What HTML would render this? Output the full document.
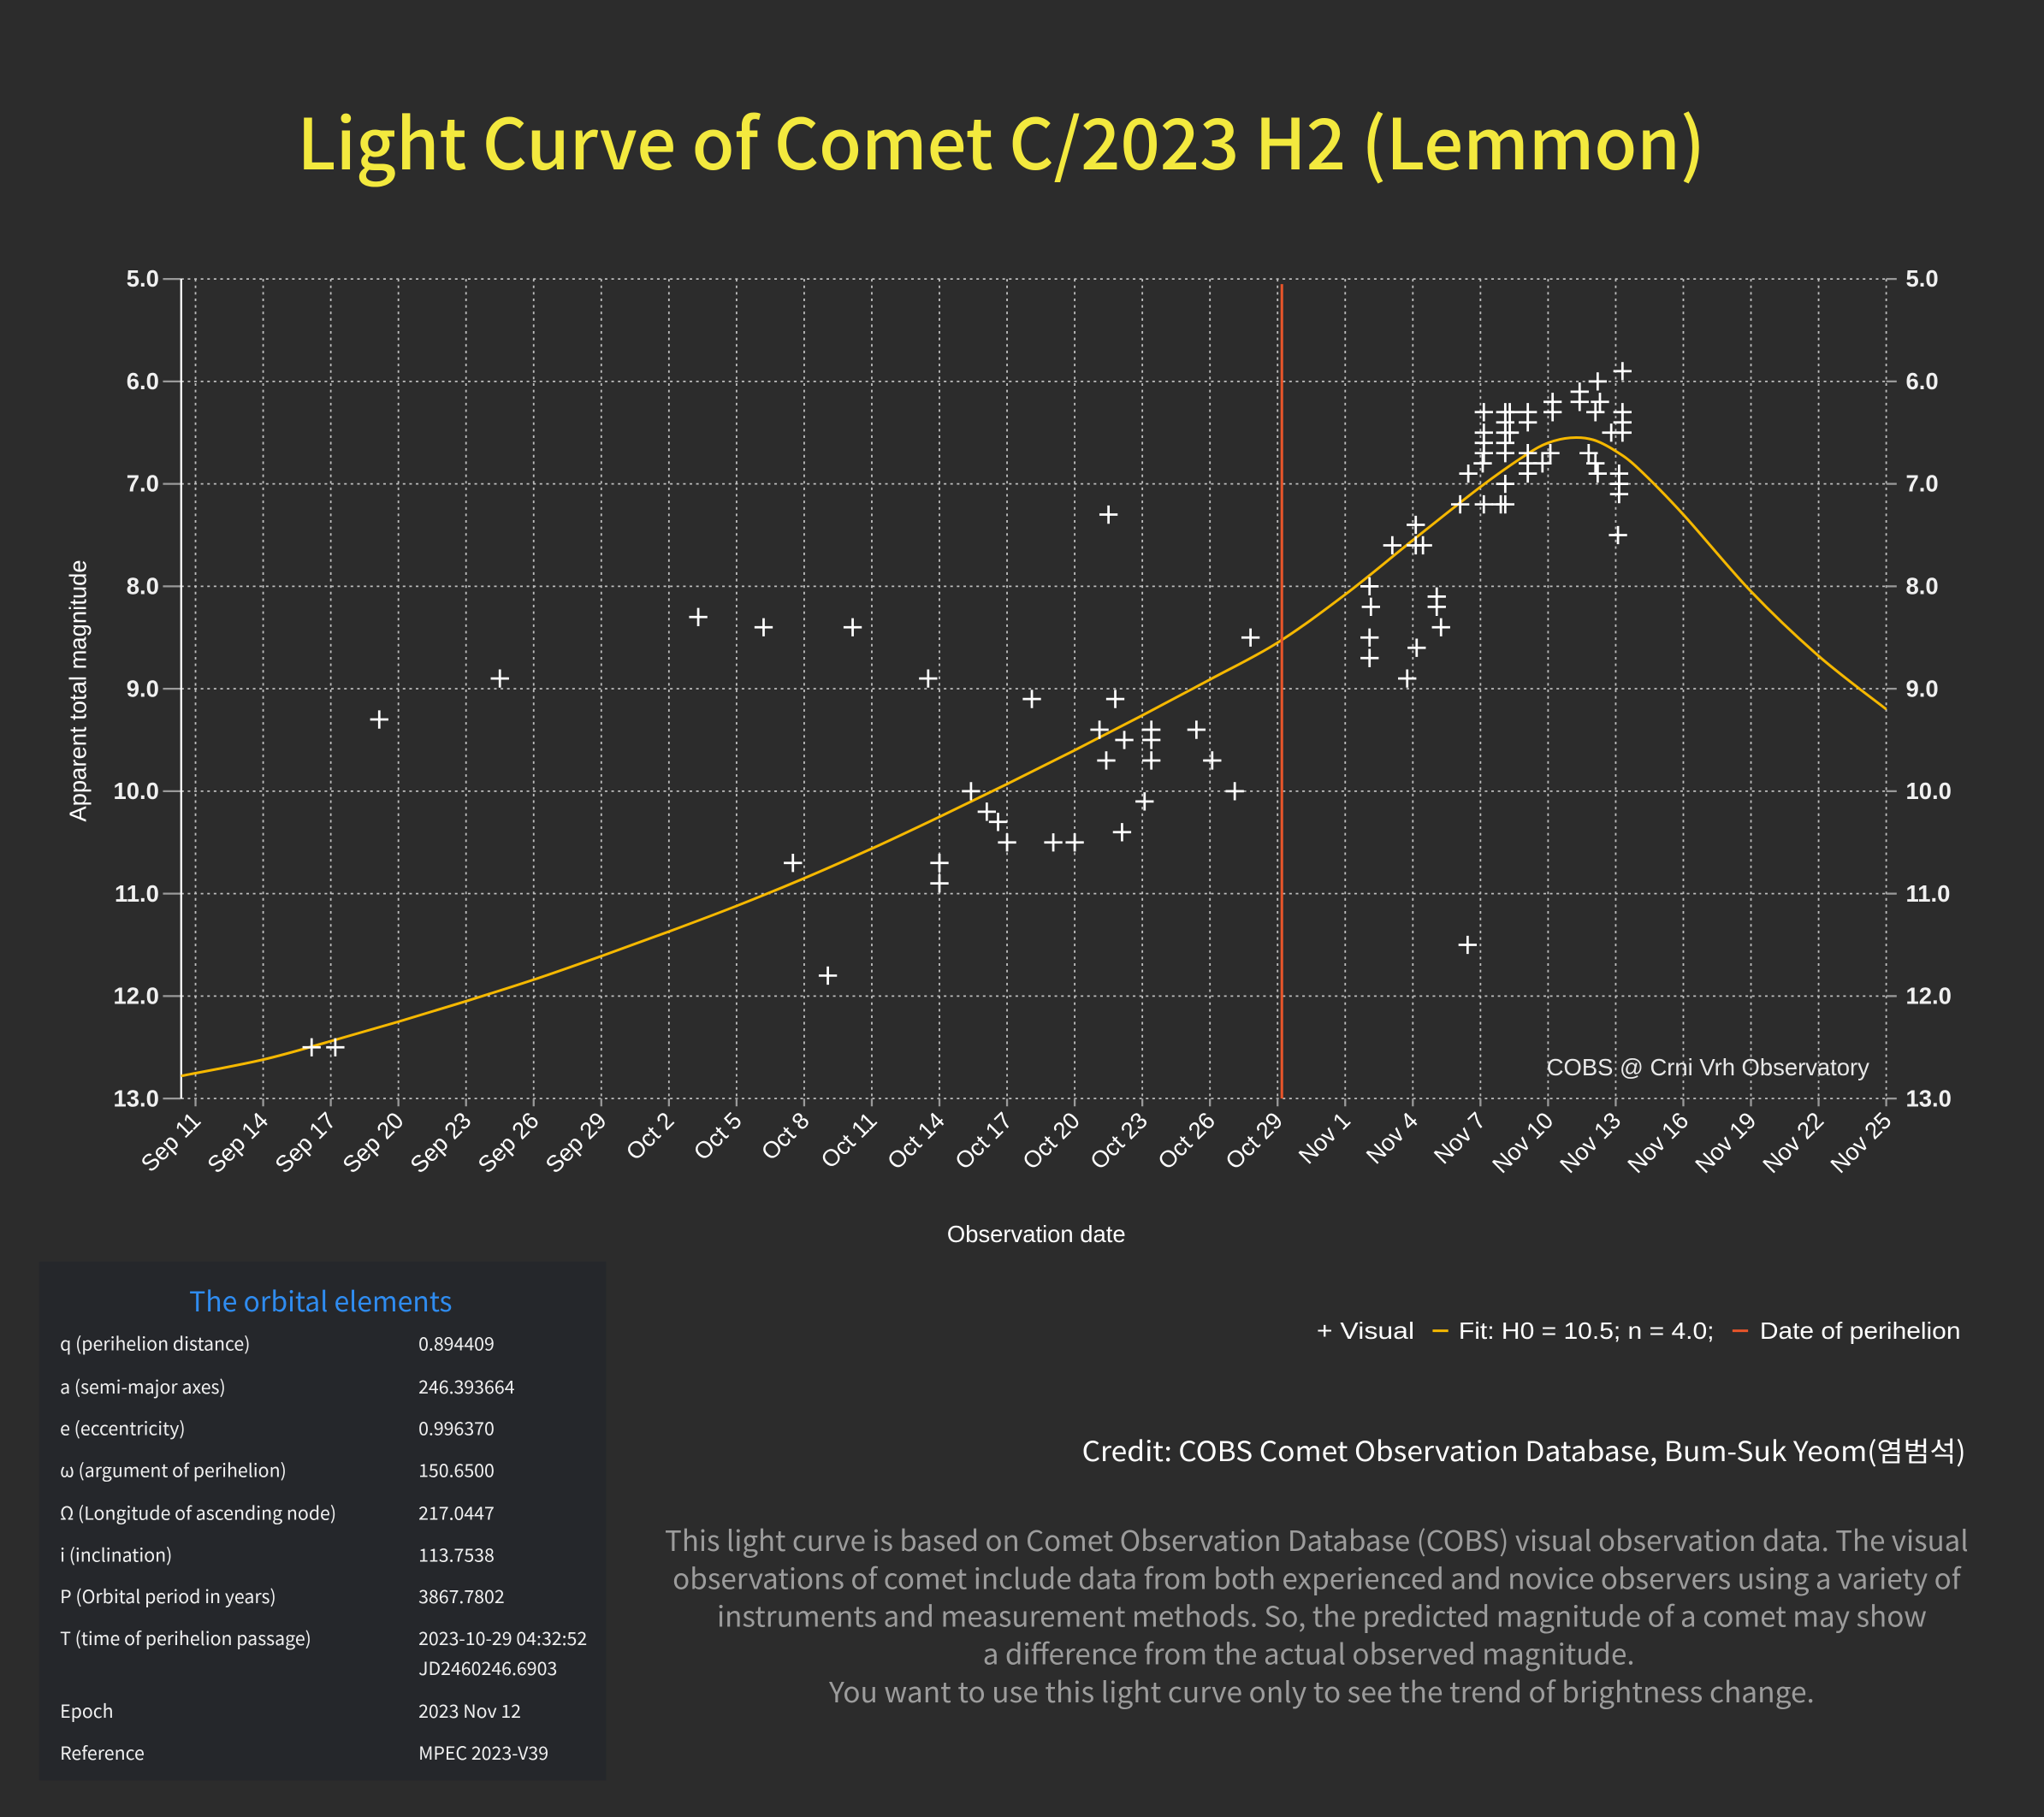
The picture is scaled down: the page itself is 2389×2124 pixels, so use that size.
<!DOCTYPE html>
<html><head><meta charset="utf-8"><style>
html,body{margin:0;padding:0;background:#2c2c2c;}
svg{display:block;}
text{font-family:"Liberation Sans","Noto Sans CJK KR",sans-serif;}
.k{font-family:"Noto Sans CJK KR","Liberation Sans",sans-serif;}
</style></head><body>
<svg id="chart" width="2389" height="2124" viewBox="0 0 1568 1394" xmlns="http://www.w3.org/2000/svg">
<rect x="0" y="0" width="1568" height="1394" fill="#2c2c2c"/>
<text class="k" x="768" y="130" text-anchor="middle" font-size="54" font-weight="500" fill="#f3e93e" textLength="1080" lengthAdjust="spacingAndGlyphs">Light Curve of Comet C/2023 H2 (Lemmon)</text>
<g id="grid"></g>
<g id="axes"></g>
<g id="marks"></g>
<text transform="translate(66,530) rotate(-90)" text-anchor="middle" font-size="18" fill="#fff">Apparent total magnitude</text>
<text x="795" y="953" text-anchor="middle" font-size="18" fill="#fff">Observation date</text>
<text x="1434" y="825" text-anchor="end" font-size="18" fill="#e8e8e8">COBS @ Crni Vrh Observatory</text>
<g>
<text x="1010" y="1027" font-size="18" fill="#fff" textLength="75" lengthAdjust="spacingAndGlyphs">+ Visual</text>
<line x1="1099" y1="1021" x2="1111" y2="1021" stroke="#f5b800" stroke-width="2"/>
<text x="1119" y="1027" font-size="18" fill="#fff" textLength="196" lengthAdjust="spacingAndGlyphs">Fit: H0 = 10.5; n = 4.0;</text>
<line x1="1329" y1="1021" x2="1341" y2="1021" stroke="#e8552a" stroke-width="2"/>
<text x="1350" y="1027" font-size="18" fill="#fff" textLength="154" lengthAdjust="spacingAndGlyphs">Date of perihelion</text>
</g>
<g>
<rect x="30" y="968" width="435" height="398" fill="#25272b"/>
<text class="k" x="246" y="1006" text-anchor="middle" font-size="21" fill="#2f8cf0">The orbital elements</text>
<g id="rows" font-size="14" fill="#f0f0f0"></g>
</g>
<text class="k" x="1508" y="1121" text-anchor="end" font-size="21" fill="#fff" textLength="678" lengthAdjust="spacingAndGlyphs">Credit: COBS Comet Observation Database, Bum-Suk Yeom(염범석)</text>
<g class="k" font-size="21.5" fill="#9c9c9c" text-anchor="middle">
<text class="k" x="1010" y="1190" textLength="1000" lengthAdjust="spacingAndGlyphs">This light curve is based on Comet Observation Database (COBS) visual observation data. The visual</text>
<text class="k" x="1010" y="1219" textLength="988" lengthAdjust="spacingAndGlyphs">observations of comet include data from both experienced and novice observers using a variety of</text>
<text class="k" x="1014" y="1248" textLength="928" lengthAdjust="spacingAndGlyphs">instruments and measurement methods. So, the predicted magnitude of a comet may show</text>
<text class="k" x="1004" y="1277" textLength="500" lengthAdjust="spacingAndGlyphs">a difference from the actual observed magnitude.</text>
<text class="k" x="1014" y="1306" textLength="756" lengthAdjust="spacingAndGlyphs">You want to use this light curve only to see the trend of brightness change.</text>
</g>
</svg>
<script>
// days since Sep 11
const obsDay = [5.15,6.2,8.15,13.5,22.3,25.2,26.5,28.05,29.15,32.5,33.0,33.0,34.4,35.1,35.6,36.0,37.1,38.05,39.0,40.1,40.4,40.5,40.8,41.1,41.2,42.1,42.4,42.4,42.4,44.4,45.1,46.1,46.8,
52.08,52.14,52.08,52.08,53.09,54.13,54.13,54.45,54.17,53.75,55.06,55.06,55.25,56.1,56.43,56.46,57.1,57.15,57.15,57.15,57.15,57.15,57.9,58.1,58.1,
58.1,58.1,58.1,58.1,58.1,58.3,58.3,59.1,59.1,59.1,59.1,59.1,59.75,60.1,60.2,60.2,61.4,61.4,62.2,62.3,62.1,61.8,62.1,62.2,62.8,63.3,63.3,63.3,63.3,63.15,63.15,63.15,63.1];
const obsMag = [12.5,12.5,9.3,8.9,8.3,8.4,10.7,11.8,8.4,8.9,10.7,10.9,10.0,10.2,10.3,10.5,9.1,10.5,10.5,9.4,9.7,7.3,9.1,10.4,9.5,10.1,9.4,9.5,9.7,9.4,9.7,10.0,8.5,
8.0,8.2,8.5,8.7,7.6,7.4,7.6,7.6,8.6,8.9,8.1,8.2,8.4,7.2,11.5,6.9,6.8,7.2,6.3,6.5,6.6,6.7,7.2,7.2,7.0,
6.3,6.4,6.5,6.6,6.7,6.3,6.5,6.3,6.4,6.7,6.8,6.9,6.8,6.7,6.2,6.3,6.1,6.2,6.0,6.2,6.3,6.7,6.8,6.9,6.5,5.9,6.3,6.4,6.5,6.9,7.0,7.1,7.5];
const fitDay = [-0.64,3,6,9,12,15,18,21,24,27,30,33,36,39,42,45,48,51,54,57,59,60,61,62,63,64,66,69,72,75];
const fitMag = [12.78,12.62,12.44,12.25,12.05,11.84,11.61,11.37,11.12,10.85,10.56,10.25,9.93,9.6,9.26,8.91,8.55,8.08,7.55,7.03,6.72,6.6,6.55,6.57,6.68,6.85,7.3,8.05,8.68,9.2];
const periDay = 48.19;
const yTicks = [5,6,7,8,9,10,11,12,13];
const xTickLabels = ["Sep 11","Sep 14","Sep 17","Sep 20","Sep 23","Sep 26","Sep 29","Oct 2","Oct 5","Oct 8","Oct 11","Oct 14","Oct 17","Oct 20","Oct 23","Oct 26","Oct 29","Nov 1","Nov 4","Nov 7","Nov 10","Nov 13","Nov 16","Nov 19","Nov 22","Nov 25"];
const rowLabels = ["q (perihelion distance)","a (semi-major axes)","e (eccentricity)","ω (argument of perihelion)","Ω (Longitude of ascending node)","i (inclination)","P (Orbital period in years)","T (time of perihelion passage)","","Epoch","Reference"];
const rowValues = ["0.894409","246.393664","0.996370","150.6500","217.0447","113.7538","3867.7802","2023-10-29 04:32:52","JD2460246.6903","2023 Nov 12","MPEC 2023-V39"];
const rowY = [1036,1069,1101,1133,1166,1198,1230,1262,1285,1318,1350];

const NS="http://www.w3.org/2000/svg";
const X0=150, XD=17.293, Y0=214, YM=78.6, L=139, R=1447;
const xs=d=>X0+d*XD, ys=m=>Y0+(m-5)*YM;
function mk(tag,attrs,parent){const e=document.createElementNS(NS,tag);for(const k in attrs)e.setAttribute(k,attrs[k]);parent.appendChild(e);return e;}
const grid=document.getElementById('grid'), axes=document.getElementById('axes'), marks=document.getElementById('marks');

yTicks.forEach((m,i)=>{
  const y=ys(m);
  const g=mk('line',{x1:L,x2:R,y1:y,y2:y,stroke:'#bdbdbd','stroke-width':1.2,'stroke-dasharray':'2,3'},grid);
  
  
  mk('line',{x1:L-14,x2:L,y1:y,y2:y,stroke:'#9a9a9a','stroke-width':1.5},axes);
  mk('line',{x1:R,x2:R+8,y1:y,y2:y,stroke:'#9a9a9a','stroke-width':1.5},axes);
  const t=mk('text',{x:122,y:y+6,'text-anchor':'end','font-size':18,'font-weight':'bold',fill:'#f0f0f0'},axes);
  t.textContent=m.toFixed(1);
  
  
  const t2=mk('text',{x:1462,y:y+6,'font-size':18,'font-weight':'bold',fill:'#f0f0f0'},axes);
  t2.textContent=m.toFixed(1);
  
  
});
xTickLabels.forEach((lab,i)=>{
  const x=xs(i*3);
  const g=mk('line',{x1:x,x2:x,y1:Y0,y2:ys(13),stroke:'#bdbdbd','stroke-width':1.2,'stroke-dasharray':'2,3'},grid);
  
  
  mk('line',{x1:x,x2:x,y1:ys(13),y2:ys(13)+6,stroke:'#9a9a9a','stroke-width':1.5},axes);
  const t=mk('text',{transform:`translate(${x+5},${ys(13)+18}) rotate(-45)`,'text-anchor':'end','font-size':18,fill:'#fff'},axes);
  t.textContent=lab;
  
  
});
mk('line',{x1:L,x2:L,y1:Y0,y2:ys(13),stroke:'#fff','stroke-width':1.5},axes);

// fit curve (Catmull-Rom)
const pts=fitDay.map((d,i)=>[xs(d),ys(fitMag[i])]);
let dstr=`M${pts[0][0]},${pts[0][1]}`;
for(let i=0;i<pts.length-1;i++){
  const p0=pts[Math.max(0,i-1)],p1=pts[i],p2=pts[i+1],p3=pts[Math.min(pts.length-1,i+2)];
  dstr+=` C${p1[0]+(p2[0]-p0[0])/6},${p1[1]+(p2[1]-p0[1])/6} ${p2[0]-(p3[0]-p1[0])/6},${p2[1]-(p3[1]-p1[1])/6} ${p2[0]},${p2[1]}`;
}
const fit=mk('path',{d:dstr,fill:'none',stroke:'#f5b800','stroke-width':2},marks);



const px=xs(periDay);
const pl=mk('line',{x1:px,x2:px,y1:ys(5.05),y2:ys(13),stroke:'#e8552a','stroke-width':2},marks);



obsDay.forEach((d,i)=>{
  const x=xs(d),y=ys(obsMag[i]);
  const p=mk('path',{d:`M${x-7},${y}H${x+7}M${x},${y-7}V${y+7}`,stroke:'#fff','stroke-width':1.8,fill:'none'},marks);
  
  
});

const rows=document.getElementById('rows');
rowLabels.forEach((lab,i)=>{
  const a=mk('text',{class:'k',x:46,y:rowY[i]},rows);
  a.textContent=lab;
  
  
  const b=mk('text',{class:'k',x:321,y:rowY[i]},rows);
  b.textContent=rowValues[i];
  
  
});
</script>
</body></html>
